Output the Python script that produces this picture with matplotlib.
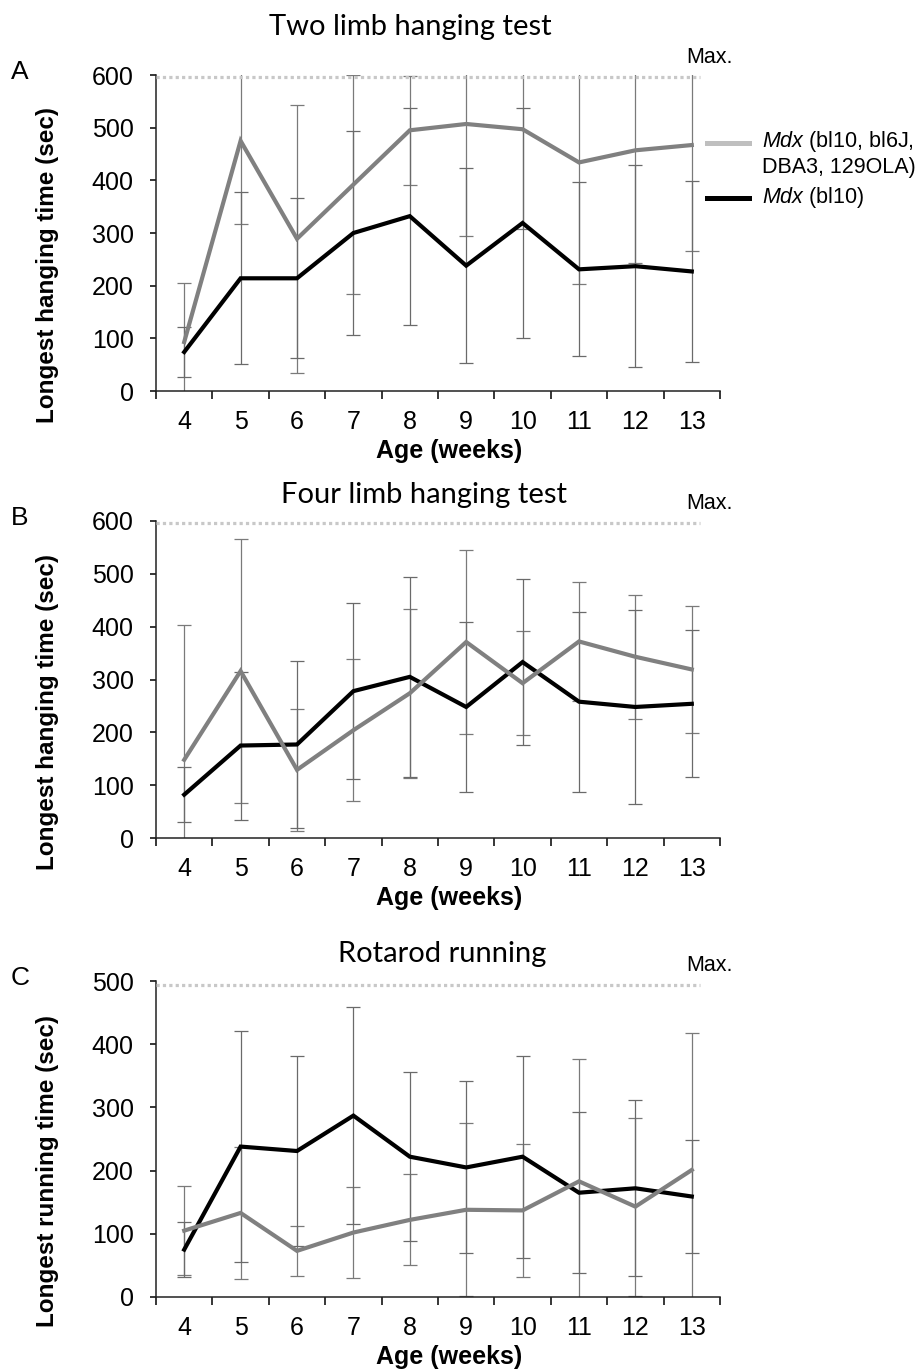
import numpy as np
import matplotlib.pyplot as plt
from matplotlib.lines import Line2D

plt.rcParams['font.family'] = ['Liberation Sans', 'DejaVu Sans']
plt.rcParams['mathtext.fontset'] = 'custom'
plt.rcParams['mathtext.it'] = 'Liberation Sans:italic'
plt.rcParams['mathtext.rm'] = 'Liberation Sans'

# data (mean and error per week)
weeks = ['4', '5', '6', '7', '8', '9', '10', '11', '12', '13']

two_mdx_all = [93, 475, 289, 392, 495, 507, 497, 434, 457, 467]
two_mdx_all_err = [113, 157, 254, 208, 103, 212, 189, 231, 214, 202]
two_bl10 = [74, 214, 214, 300, 332, 238, 319, 231, 237, 227]
two_bl10_err = [48, 163, 152, 193, 206, 185, 219, 165, 192, 172]

four_mdx_all = [148, 316, 129, 204, 274, 371, 293, 372, 343, 319]
four_mdx_all_err = [255, 249, 116, 134, 160, 175, 98, 113, 117, 121]
four_bl10 = [82, 175, 177, 278, 305, 248, 333, 258, 248, 254]
four_bl10_err = [52, 140, 158, 167, 189, 160, 157, 170, 183, 139]

rota_mdx_all = [105, 133, 73, 102, 122, 138, 137, 183, 143, 201]
rota_mdx_all_err = [70, 105, 39, 72, 72, 137, 105, 193, 141, 217]
rota_bl10 = [75, 238, 231, 287, 222, 205, 222, 165, 172, 159]
rota_bl10_err = [44, 183, 151, 172, 134, 136, 160, 127, 139, 90]

titles = ['Two limb hanging test', 'Four limb hanging test', 'Rotarod running']
letters = ['A', 'B', 'C']
ylabels = ['Longest hanging time (sec)', 'Longest hanging time (sec)', 'Longest running time (sec)']
max_vals = [596, 596, 494]
y_tops = [600, 600, 500]

panels = [
    (two_mdx_all, two_mdx_all_err, two_bl10, two_bl10_err),
    (four_mdx_all, four_mdx_all_err, four_bl10, four_bl10_err),
    (rota_mdx_all, rota_mdx_all_err, rota_bl10, rota_bl10_err),
]

W, H = 922, 1370
fig = plt.figure(figsize=(W / 100, H / 100), dpi=100)

# axes boxes in pixels: left, right, top, bottom
boxes = [(156, 720, 75, 391), (156, 720, 521, 838), (156, 720, 981, 1297)]
title_pos = [(410, 35), (424, 503), (442, 962)]

x = np.arange(len(weeks))
for i, (gm, ge, bm, be) in enumerate(panels):
    l, r, t, b = boxes[i]
    ax = fig.add_axes([l / W, 1 - b / H, (r - l) / W, (b - t) / H])

    ax.errorbar(x, gm, yerr=ge, fmt='none', ecolor='#7a7a7a', elinewidth=0.9,
                capsize=5, capthick=0.9, zorder=2)
    ax.errorbar(x, bm, yerr=be, fmt='none', ecolor='#6a6a6a', elinewidth=0.9,
                capsize=5, capthick=0.9, zorder=2)
    ax.plot(x, bm, color='black', lw=3, zorder=4, solid_joinstyle='miter')
    ax.plot(x, gm, color='#808080', lw=3, zorder=5, solid_joinstyle='miter')

    # max line
    ax.plot([-0.5, 9.15], [max_vals[i], max_vals[i]], color='#c8c8c8', lw=2.3,
            linestyle=(0, (1, 1)), clip_on=False, zorder=3)
    ax.annotate('Max.', xy=(8.91, max_vals[i]), xytext=(0, 10), textcoords='offset points',
                ha='left', va='baseline', fontsize=15.5, annotation_clip=False)

    ax.set_xlim(-0.5, 9.5)
    ax.set_ylim(0, y_tops[i])
    ax.set_yticks(np.arange(0, y_tops[i] + 1, 100))
    ax.set_xticks(x)
    ax.set_xticklabels(weeks)
    ax.set_xticks(np.arange(-0.5, 10, 1), minor=True)
    ax.tick_params(axis='x', which='major', length=0, pad=14, labelsize=18)
    ax.tick_params(axis='x', which='minor', length=6, width=1.1, direction='out')
    ax.tick_params(axis='y', length=4, width=1.1, pad=12, labelsize=18)
    for s in ['top', 'right']:
        ax.spines[s].set_visible(False)
    for s in ['left', 'bottom']:
        ax.spines[s].set_linewidth(1.1)
        ax.spines[s].set_color('#222222')

    h = b - t
    ax.text((48 - l) / (r - l), 0.5 - 32 / h, ylabels[i], transform=ax.transAxes,
            rotation=90, ha='center', va='center', fontsize=17.5, fontweight='bold')
    ax.text((449 - l) / (r - l), -(60 / h), 'Age (weeks)', transform=ax.transAxes,
            ha='center', va='center', fontsize=18, fontweight='bold')

    tx, ty = title_pos[i]
    fig.text(tx / W, 1 - ty / H, titles[i], ha='center', va='baseline',
             fontsize=21, family=['Lato', 'DejaVu Sans'])
    fig.text(20 / W, 1 - (t - 3) / H, letters[i], ha='center', va='center', fontsize=19)

# legend drawn by hand next to panel A
fig.add_artist(Line2D([707 / W, 749 / W], [1 - 143 / H, 1 - 143 / H], color='#bfbfbf', lw=3.6))
fig.add_artist(Line2D([707 / W, 749 / W], [1 - 198 / H, 1 - 198 / H], color='black', lw=3.6))
fig.text(762 / W, 1 - 142 / H, r'$\it{Mdx}$ (bl10, bl6J,', ha='left', va='center', fontsize=15.5)
fig.text(762 / W, 1 - 167 / H, 'DBA3, 129OLA)', ha='left', va='center', fontsize=15.5)
fig.text(762 / W, 1 - 198 / H, r'$\it{Mdx}$ (bl10)', ha='left', va='center', fontsize=15.5)

fig.savefig('out.png', dpi=100)
